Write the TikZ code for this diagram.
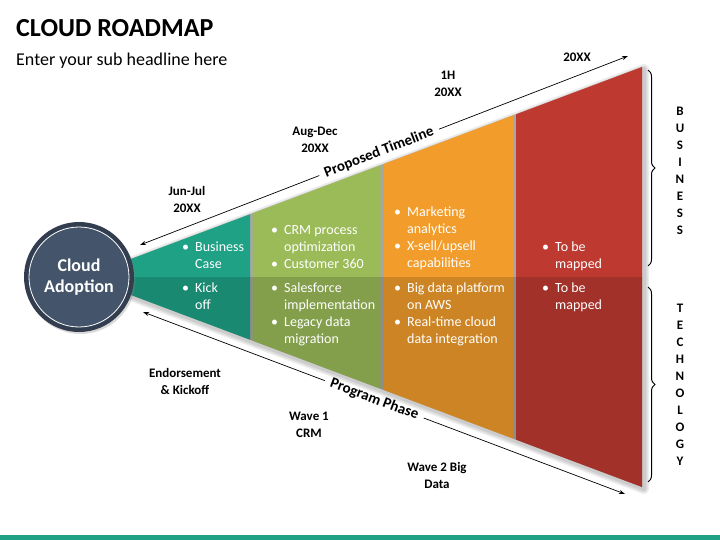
\documentclass[tikz,border=0pt]{standalone}
\usepackage{fontspec}
\setmainfont{Carlito}
\usetikzlibrary{arrows.meta, decorations.pathreplacing, shadows}
\definecolor{teal-green}{HTML}{1FA185}
\definecolor{olive-green}{HTML}{9BBB59}
\definecolor{tangerine}{HTML}{F29C2B}
\definecolor{brick-red}{HTML}{BE3A31}
\definecolor{slate}{HTML}{44546A}
\definecolor{dark-slate}{HTML}{323E4F}
\definecolor{divider}{HTML}{A6A6A6}
\newcommand{\bulletlist}[1]{\begin{tabular}{@{}l@{\hspace{6pt}}l@{}}#1\end{tabular}}

\begin{document}
\begin{tikzpicture}[x=1pt, y=-1pt,
    seg/.style={font=\fontsize{14}{17}\selectfont, text=white, anchor=north west, inner sep=0pt, align=left},
    lbl/.style={font=\bfseries\fontsize{13}{17}\selectfont, align=center, inner sep=0pt},
    axis/.style={{Stealth[length=6pt,width=4pt]}-{Stealth[length=6pt,width=4pt]}, line width=0.7pt},
    axislbl/.style={sloped, fill=white, inner xsep=6pt, inner ysep=2pt, font=\bfseries\fontsize{15}{17}\selectfont},
    vert/.style={font=\bfseries\fontsize{13}{17}\selectfont, align=center, inner sep=0pt}]
  \useasboundingbox (0,0) rectangle (720,540);
  % title
  \node[anchor=base west, inner sep=0pt, font=\bfseries\fontsize{26}{30}\selectfont] (title) at (16,37) {CLOUD ROADMAP};
  \node[anchor=base west, inner sep=0pt, font=\fontsize{18}{22}\selectfont] (subtitle) at (16,66) {Enter your sub headline here};
  % axes
  \coordinate (tl-start) at (140,245);
  \coordinate (tl-end) at (628,56);
  \coordinate (pp-start) at (143,312);
  \coordinate (pp-end) at (625,494);
  \draw[axis] (tl-start) -- node[axislbl, pos=0.49] {Proposed Timeline} (tl-end);
  \draw[axis] (pp-start) -- node[axislbl, pos=0.48] {Program Phase} (pp-end);
  % funnel
  \foreach \w in {10,7,4} {
    \draw[black, opacity=0.07, line width=\w pt, line join=round] (85,279) -- (644,69) -- (644,489) -- cycle;
  }
  \fill[divider] (83,277) -- (642,67) -- (642,487) -- cycle;
  \fill[teal-green] (83,277) -- (250,214.3) -- (250,339.7) -- cycle;
  \fill[olive-green] (252.5,213.3) -- (380.5,165.2) -- (380.5,388.8) -- (252.5,340.7) -- cycle;
  \fill[tangerine] (383.5,164.1) -- (513,115.4) -- (513,438.6) -- (383.5,389.9) -- cycle;
  \fill[brick-red] (516,114.3) -- (642,67) -- (642,487) -- (516,439.7) -- cycle;
  \fill[black, opacity=0.15] (83,277) -- (642,277) -- (642,487) -- cycle;
  % hub
  \node[circle, minimum size=110pt, inner sep=0pt, fill=dark-slate, drop shadow={opacity=0.3, shadow xshift=1.5pt, shadow yshift=-2pt}] (hub) at (79,277) {};
  \node[circle, minimum size=100pt, inner sep=0pt, fill=slate, draw=white, line width=0.8pt, text=white, align=center, font=\bfseries\fontsize{18}{21}\selectfont] (hub-text) at (hub) {Cloud\\Adoption};
  % segment texts
  \node[seg] (teal-up) at (182,239) {\bulletlist{\textbullet & Business\\ & Case}};
  \node[seg] (teal-low) at (182,280) {\bulletlist{\textbullet & Kick\\ & off}};
  \node[seg] (green-up) at (271,222) {\bulletlist{\textbullet & CRM process\\ & optimization\\ \textbullet & Customer 360}};
  \node[seg] (green-low) at (271,280) {\bulletlist{\textbullet & Salesforce\\ & implementation\\ \textbullet & Legacy data\\ & migration}};
  \node[seg] (orange-up) at (394,204) {\bulletlist{\textbullet & Marketing\\ & analytics\\ \textbullet & X-sell/upsell\\ & capabilities}};
  \node[seg] (orange-low) at (394,280) {\bulletlist{\textbullet & Big data platform\\ & on AWS\\ \textbullet & Real-time cloud\\ & data integration}};
  \node[seg] (red-up) at (542,239) {\bulletlist{\textbullet & To be\\ & mapped}};
  \node[seg] (red-low) at (542,280) {\bulletlist{\textbullet & To be\\ & mapped}};
  % timeline labels
  \node[lbl] (jun-jul) at (187,199.5) {Jun-Jul\\20XX};
  \node[lbl] (aug-dec) at (315,139.5) {Aug-Dec\\20XX};
  \node[lbl] (first-half) at (448,83.5) {1H\\20XX};
  \node[lbl] (year) at (577,57) {20XX};
  % phase labels
  \node[lbl] (kickoff) at (185,381.5) {Endorsement\\\& Kickoff};
  \node[lbl] (wave-one) at (309,425) {Wave 1\\CRM};
  \node[lbl] (wave-two) at (437,475) {Wave 2 Big\\Data};
  % braces
  \draw[decorate, decoration={brace, amplitude=7pt}, line width=1pt] (648,70) -- (648,266);
  \draw[decorate, decoration={brace, amplitude=7pt}, line width=1pt] (648,287) -- (648,482);
  \node[vert] (business) at (680,171) {B\\U\\S\\I\\N\\E\\S\\S};
  \node[vert] (technology) at (680,385) {T\\E\\C\\H\\N\\O\\L\\O\\G\\Y};
  % footer
  \fill[teal-green] (0,535) rectangle (720,540);
\end{tikzpicture}
\end{document}
